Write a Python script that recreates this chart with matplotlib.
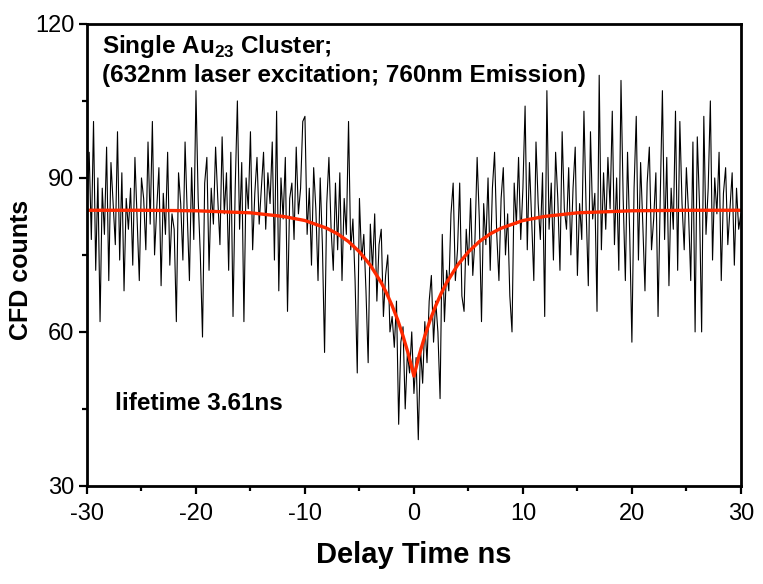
import numpy as np
import matplotlib
matplotlib.use("Agg")
import matplotlib.pyplot as plt
from matplotlib.ticker import MultipleLocator

plt.rcParams["font.family"] = ["Liberation Sans", "DejaVu Sans"]
plt.rcParams["axes.unicode_minus"] = False
plt.rcParams["mathtext.fontset"] = "custom"
plt.rcParams["mathtext.rm"] = "Liberation Sans"
plt.rcParams["mathtext.bf"] = "Liberation Sans:bold"

# CFD counts per 0.2 ns bin, -30 ns .. +30 ns
counts = [
    84, 95, 78, 101, 72, 90, 62, 88, 79, 96, 70, 93, 85, 77, 99, 74, 91, 68, 86, 80,
    88, 73, 94, 82, 70, 90, 86, 76, 97, 81, 101, 75, 84, 92, 69, 87, 79, 95, 73, 83,
    80, 62, 91, 85, 74, 97, 83, 70, 92, 78, 107, 86, 75, 59, 89, 94, 72, 88, 81, 96,
    86, 77, 98, 83, 91, 72, 95, 63, 88, 105, 80, 93, 62, 90, 84, 99, 76, 87, 94, 81,
    88, 95, 80, 91, 85, 97, 74, 103, 68, 90, 82, 94, 64, 86, 89, 78, 96, 83, 88, 101,
    102, 79, 88, 73, 92, 84, 70, 90, 77, 56, 85, 94, 80, 72, 89, 76, 91, 70, 86, 79,
    101, 76, 82, 70, 52, 86, 74, 79, 68, 54, 81, 72, 83, 66, 77, 80, 63, 71, 75, 60,
    63, 57, 66, 42, 58, 61, 45, 56, 52, 60, 48, 55, 39, 57, 50, 62, 54, 66, 71, 58,
    66, 60, 47, 79, 62, 72, 68, 83, 89, 70, 76, 89, 67, 64, 80, 73, 86, 71, 78, 94,
    82, 62, 85, 77, 90, 72, 88, 95, 79, 70, 86, 92, 75, 83, 67, 60, 89, 81, 94, 78,
    88, 104, 76, 93, 82, 70, 97, 85, 78, 91, 63, 107, 80, 89, 74, 95, 86, 72, 99, 84,
    80, 92, 75, 88, 96, 71, 85, 78, 103, 84, 69, 99, 82, 87, 64, 110, 76, 91, 80, 94,
    84, 103, 77, 90, 72, 109, 86, 70, 95, 79, 58, 88, 102, 74, 93, 81, 68, 89, 96, 76,
    82, 91, 63, 86, 107, 78, 94, 69, 88, 80, 103, 72, 101, 85, 76, 92, 83, 70, 97, 60,
    98, 85, 60, 102, 79, 88, 105, 74, 90, 83, 95, 70, 87, 92, 77, 84, 91, 73, 88, 80,
    83,
]
delay = np.linspace(-30, 30, len(counts))

# fitted curve (lifetime 3.61 ns)
fit_t = [-30, -25, -20, -15, -12, -10, -8, -7, -6, -5, -4, -3, -2.5, -2, -1.5, -1, -0.5, 0,
         0.5, 1, 1.5, 2, 2.5, 3, 4, 5, 6, 7, 8, 10, 12, 15, 20, 25, 30]
fit_y = [83.7, 83.7, 83.6, 83.2, 82.5, 81.7, 80.2, 79.1, 77.6, 75.6, 73.0, 69.6, 67.5, 65.1, 62.4, 59.2, 55.6, 51.4,
         55.6, 59.2, 62.4, 65.1, 67.5, 69.6, 73.0, 75.6, 77.6, 79.1, 80.2, 81.7, 82.5, 83.2, 83.6, 83.7, 83.7]

fig = plt.figure(figsize=(7.63, 5.84), dpi=100)
ax = fig.add_axes([0.114, 0.168, 0.857, 0.791])

ax.plot(delay, counts, color="black", lw=0.8)
ax.plot(fit_t, fit_y, color="#ff2a00", lw=2.4)

ax.set_xlim(-30, 30)
ax.set_ylim(30, 120)
ax.xaxis.set_major_locator(MultipleLocator(10))
ax.xaxis.set_minor_locator(MultipleLocator(5))
ax.yaxis.set_major_locator(MultipleLocator(30))
ax.yaxis.set_minor_locator(MultipleLocator(15))

for s in ax.spines.values():
    s.set_linewidth(2.0)
ax.tick_params(which="major", direction="out", length=6, width=1.6, labelsize=17)
ax.tick_params(which="minor", direction="out", length=3.5, width=1.6)
ax.tick_params(axis="x", which="major", pad=6)
ax.tick_params(axis="y", which="major", pad=3)

ax.set_xlabel("Delay Time ns", fontsize=21, fontweight="bold", labelpad=12)
ax.set_ylabel("CFD counts", fontsize=18, fontweight="bold")
ax.yaxis.set_label_coords(-0.083, 0.468)

ax.text(0.023, 0.937, r"Single Au$_{\mathbf{23}}$ Cluster;", transform=ax.transAxes,
        fontsize=17.5, fontweight="bold", va="baseline", ha="left")
ax.text(0.023, 0.874, "(632nm laser excitation; 760nm Emission)", transform=ax.transAxes,
        fontsize=17.5, fontweight="bold", va="baseline", ha="left")
ax.text(-27.4, 44.8, "lifetime 3.61ns", fontsize=17.5, fontweight="bold", va="baseline", ha="left")

fig.savefig("out.png", dpi=100)
